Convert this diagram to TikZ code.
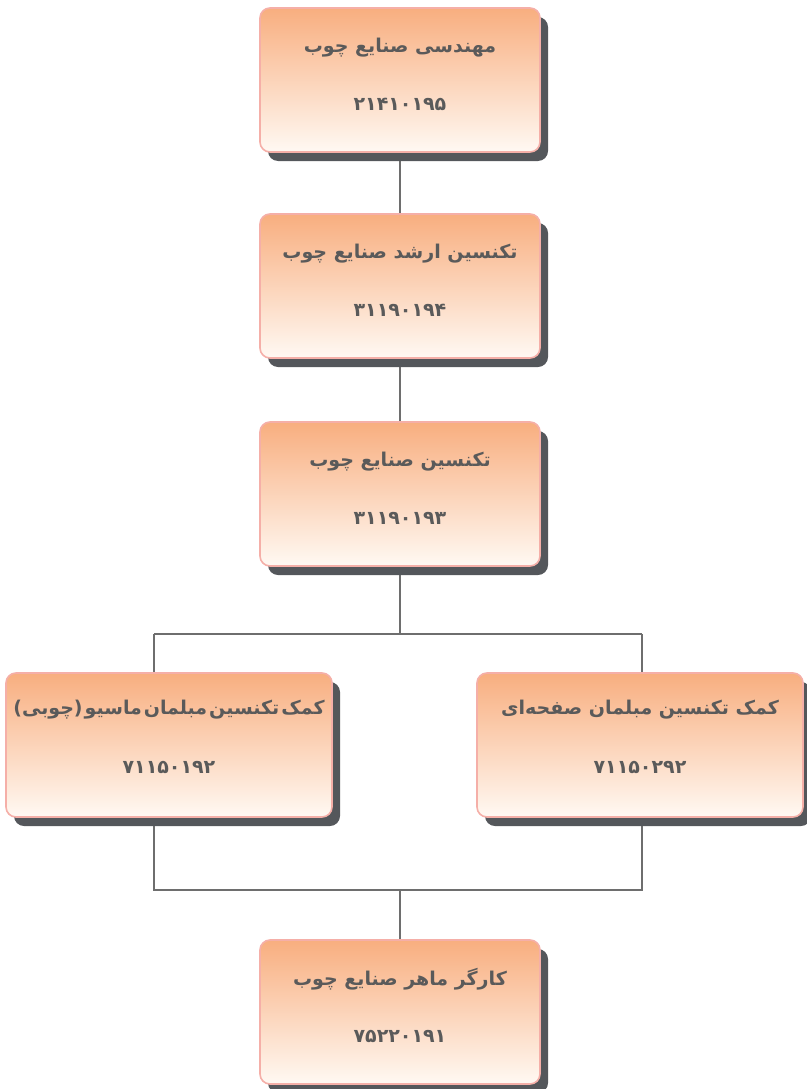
\documentclass[tikz,border=0pt]{standalone}
\usepackage{fontspec}
\usetikzlibrary{shadows,backgrounds}
\newfontfamily\arabicfont[Script=Arabic]{DejaVu Sans}
\TeXXeTstate=1
\definecolor{boxtop}{HTML}{F8AE7F}
\definecolor{boxbot}{HTML}{FFF9F3}
\definecolor{boxline}{HTML}{F5AFA8}
\definecolor{boxshadow}{HTML}{54575B}
\definecolor{textgray}{HTML}{5A5A5A}
\definecolor{linegray}{HTML}{6E6E6E}
\begin{document}
\begin{tikzpicture}[x=1pt,y=-1pt,
  jobbox/.style={draw=boxline, line width=1.6pt, rounded corners=10pt,
    top color=boxtop, bottom color=boxbot, minimum width=280pt, minimum height=144pt,
    drop shadow={shadow xshift=8pt, shadow yshift=-9pt, fill=boxshadow, opacity=1}},
  jobtitle/.style={text=textgray, font=\arabicfont\bfseries\fontsize{19}{22}\selectfont},
  jobcode/.style={text=textgray, font=\arabicfont\bfseries\fontsize{19}{22}\selectfont},
  link/.style={draw=linegray, line width=2pt}]
\useasboundingbox (0,0) rectangle (806,1089);
\node[jobbox] (b1) at (400,80) {};
\node[jobbox] (b2) at (400,286) {};
\node[jobbox] (b3) at (400,494) {};
\node[jobbox, minimum width=326pt] (b4) at (169,745) {};
\node[jobbox, minimum width=326pt] (b5) at (640,745) {};
\node[jobbox] (b6) at (400,1012) {};
\node[jobtitle] (t1) at ([yshift=-40pt]b1.north) {\beginR مهندسی صنایع چوب\endR};
\node[jobcode] (n1) at ([yshift=-97pt]b1.north) {۲۱۴۱۰۱۹۵};
\node[jobtitle] (t2) at ([yshift=-40pt]b2.north) {\beginR تکنسین ارشد صنایع چوب\endR};
\node[jobcode] (n2) at ([yshift=-97pt]b2.north) {۳۱۱۹۰۱۹۴};
\node[jobtitle] (t3) at ([yshift=-40pt]b3.north) {\beginR تکنسین صنایع چوب\endR};
\node[jobcode] (n3) at ([yshift=-97pt]b3.north) {۳۱۱۹۰۱۹۳};
\node[jobtitle] (t4) at ([yshift=-37pt]b4.north) {\spaceskip=2pt\beginR کمک تکنسین مبلمان ماسیو (چوبی)\endR};
\node[jobcode] (n4) at ([yshift=-95pt]b4.north) {۷۱۱۵۰۱۹۲};
\node[jobtitle] (t5) at ([yshift=-37pt]b5.north) {\beginR کمک تکنسین مبلمان صفحه‌ای\endR};
\node[jobcode] (n5) at ([yshift=-95pt]b5.north) {۷۱۱۵۰۲۹۲};
\node[jobtitle] (t6) at ([yshift=-40pt]b6.north) {\beginR کارگر ماهر صنایع چوب\endR};
\node[jobcode] (n6) at ([yshift=-97pt]b6.north) {۷۵۲۲۰۱۹۱};
\coordinate (ju) at (400,634); \coordinate (jl) at (154,634); \coordinate (jr) at (642,634);
\coordinate (kl) at (154,890); \coordinate (kr) at (642,890); \coordinate (kd) at (400,890);
\begin{scope}[on background layer]
\draw[link] (b1) -- (b2);
\draw[link] (b2) -- (b3);
\draw[link] (b3) -- (ju);
\draw[link] (jl) -- (jr);
\draw[link] (jl) -- (jl |- b4.center);
\draw[link] (jr) -- (jr |- b5.center);
\draw[link] (kl |- b4.center) -- (kl) -- (kr) -- (kr |- b5.center);
\draw[link] (kd) -- (b6);
\end{scope}
\end{tikzpicture}
\end{document}
